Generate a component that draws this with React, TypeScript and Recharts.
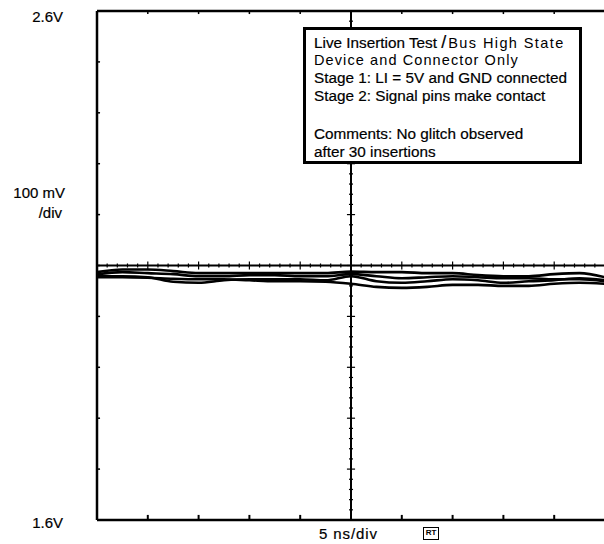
import React from "react";
import { LineChart, Line, XAxis, YAxis, ReferenceLine } from "recharts";

// time axis (ns), 5 ns/div, 10 divisions
const timeNs = [0, 2.5, 5, 7.5, 10, 12.5, 15, 17.5, 20, 22.5, 25, 27.5, 30, 32.5, 35, 37.5, 40, 42.5, 45, 47.5, 50];
// overlaid captured traces (V)
const traceA = [2.087, 2.092, 2.092, 2.089, 2.085, 2.085, 2.085, 2.085, 2.085, 2.085, 2.088, 2.087, 2.087, 2.085, 2.085, 2.081, 2.079, 2.079, 2.083, 2.085, 2.077];
const traceB = [2.083, 2.087, 2.085, 2.083, 2.079, 2.079, 2.081, 2.081, 2.079, 2.079, 2.083, 2.079, 2.075, 2.077, 2.079, 2.077, 2.075, 2.075, 2.073, 2.073, 2.069];
const traceC = [2.079, 2.079, 2.077, 2.068, 2.066, 2.071, 2.073, 2.073, 2.073, 2.071, 2.079, 2.069, 2.066, 2.069, 2.073, 2.071, 2.066, 2.069, 2.071, 2.075, 2.071];
const traceD = [2.077, 2.077, 2.076, 2.074, 2.073, 2.073, 2.071, 2.069, 2.069, 2.068, 2.064, 2.058, 2.056, 2.058, 2.062, 2.062, 2.060, 2.060, 2.064, 2.066, 2.064];

const X_MIN = 0;
const X_MAX = 50;
const Y_MIN = 1.6;
const Y_MAX = 2.6;
const X_CENTER = 25;
const Y_CENTER = 2.1;
const xMajor = [0, 5, 10, 15, 20, 25, 30, 35, 40, 45, 50];
const yMajor = [1.6, 1.7, 1.8, 1.9, 2.0, 2.1, 2.2, 2.3, 2.4, 2.5, 2.6];
const xMinor = Array.from({ length: 51 }, (_, i) => i);
const yMinor = Array.from({ length: 51 }, (_, i) => Math.round((1.6 + i * 0.02) * 1000) / 1000);

const data = timeNs.map((t, i) => ({ t, a: traceA[i], b: traceB[i], c: traceC[i], d: traceD[i] }));

const font = "'Liberation Sans', Arial, sans-serif";
const stroke: React.CSSProperties = { WebkitTextStroke: "0.2px #000" } as React.CSSProperties;

const label = (text: string, style: React.CSSProperties) => (
  <div style={{ position: "absolute", fontFamily: font, fontSize: 15, lineHeight: "16px", color: "#000", whiteSpace: "nowrap", ...stroke, ...style }}>{text}</div>
);

export default function App() {
  const seg = (k: string, x1: number, y1: number, x2: number, y2: number, w: number) => (
    <ReferenceLine key={k} segment={[{ x: x1, y: y1 }, { x: x2, y: y2 }]} stroke="#000" strokeWidth={w} ifOverflow="visible" />
  );
  const refs: React.ReactNode[] = [];
  // frame
  refs.push(seg("fl", X_MIN, Y_MIN, X_MIN, Y_MAX, 2.5));
  refs.push(seg("ft", X_MIN, Y_MAX, X_MAX, Y_MAX, 2.5));
  refs.push(seg("fb", X_MIN, Y_MIN, X_MAX, Y_MIN, 2.5));
  // center lines
  refs.push(seg("cv", X_CENTER, Y_MIN, X_CENTER, Y_MAX, 2));
  refs.push(seg("ch", X_MIN, Y_CENTER, X_MAX, Y_CENTER, 2));
  // minor ticks on center lines
  xMinor.forEach((x) => {
    const major = x % 5 === 0;
    const h = major ? 0.008 : 0.004;
    refs.push(seg("mx" + x, x, Y_CENTER - h, x, Y_CENTER + h, 1.2));
  });
  yMinor.forEach((y, i) => {
    const major = i % 5 === 0;
    const w = major ? 0.4 : 0.2;
    refs.push(seg("my" + i, X_CENTER - w, y, X_CENTER + w, y, 1.2));
  });
  // border ticks
  xMajor.forEach((x) => {
    refs.push(seg("bx" + x, x, Y_MIN, x, Y_MIN + 0.01, 2));
    refs.push(seg("tx" + x, x, Y_MAX, x, Y_MAX - 0.006, 1.5));
  });
  yMajor.forEach((y, i) => {
    refs.push(seg("ly" + i, X_MIN, y, X_MIN + 0.3, y, 1.5));
  });

  const line: React.CSSProperties = { height: 18, lineHeight: "18px", whiteSpace: "nowrap" };
  const spaced: React.CSSProperties = { letterSpacing: 1.1, fontSize: 14.5, WebkitTextStroke: "0px #000" } as React.CSSProperties;

  return (
    <div style={{ position: "absolute", left: 0, top: 0, width: 604, height: 544, background: "#fff", overflow: "hidden" }}>
      <LineChart width={604} height={544} data={data} margin={{ top: 11, left: 97, right: -1, bottom: 24 }}>
        <XAxis dataKey="t" type="number" domain={[X_MIN, X_MAX]} hide />
        <YAxis type="number" domain={[Y_MIN, Y_MAX]} hide />
        {refs}
        <Line dataKey="a" type="monotone" stroke="#000" strokeWidth={2.6} dot={false} isAnimationActive={false} />
        <Line dataKey="b" type="monotone" stroke="#000" strokeWidth={2.6} dot={false} isAnimationActive={false} />
        <Line dataKey="c" type="monotone" stroke="#000" strokeWidth={2.6} dot={false} isAnimationActive={false} />
        <Line dataKey="d" type="monotone" stroke="#000" strokeWidth={2.6} dot={false} isAnimationActive={false} />
      </LineChart>
      {label("2.6V", { right: 604 - 63, top: 9 })}
      {label("100 mV", { right: 604 - 65, top: 185 })}
      {label("/div", { right: 604 - 62, top: 205 })}
      {label("1.6V", { right: 604 - 63, top: 515 })}
      {label("5 ns/div", { left: 319, top: 526, letterSpacing: 0.9 })}
      <div style={{ position: "absolute", left: 423, top: 527, width: 16, height: 13, border: "1.5px solid #000", boxSizing: "border-box", fontFamily: font, fontSize: 8, lineHeight: "10px", textAlign: "center", fontWeight: 700 }}>RT</div>
      <div style={{ position: "absolute", left: 303, top: 27, width: 279, height: 137, border: "3px solid #000", boxSizing: "border-box", background: "#fff", paddingLeft: 8, paddingTop: 3, fontFamily: font, fontSize: 15.3, color: "#000", ...stroke }}>
        <div style={line}>
          Live Insertion Test <span style={{ fontSize: 18, margin: "0 2px 0 0" }}>/</span><span style={{ ...spaced, letterSpacing: 1.4 }}>Bus High State</span>
        </div>
        <div style={{ ...line, ...spaced }}>Device and Connector Only</div>
        <div style={line}>Stage 1: LI = 5V and GND connected</div>
        <div style={line}>Stage 2: Signal pins make contact</div>
        <div style={{ height: 20 }} />
        <div style={line}>Comments: No glitch observed</div>
        <div style={line}>after 30 insertions</div>
      </div>
    </div>
  );
}
